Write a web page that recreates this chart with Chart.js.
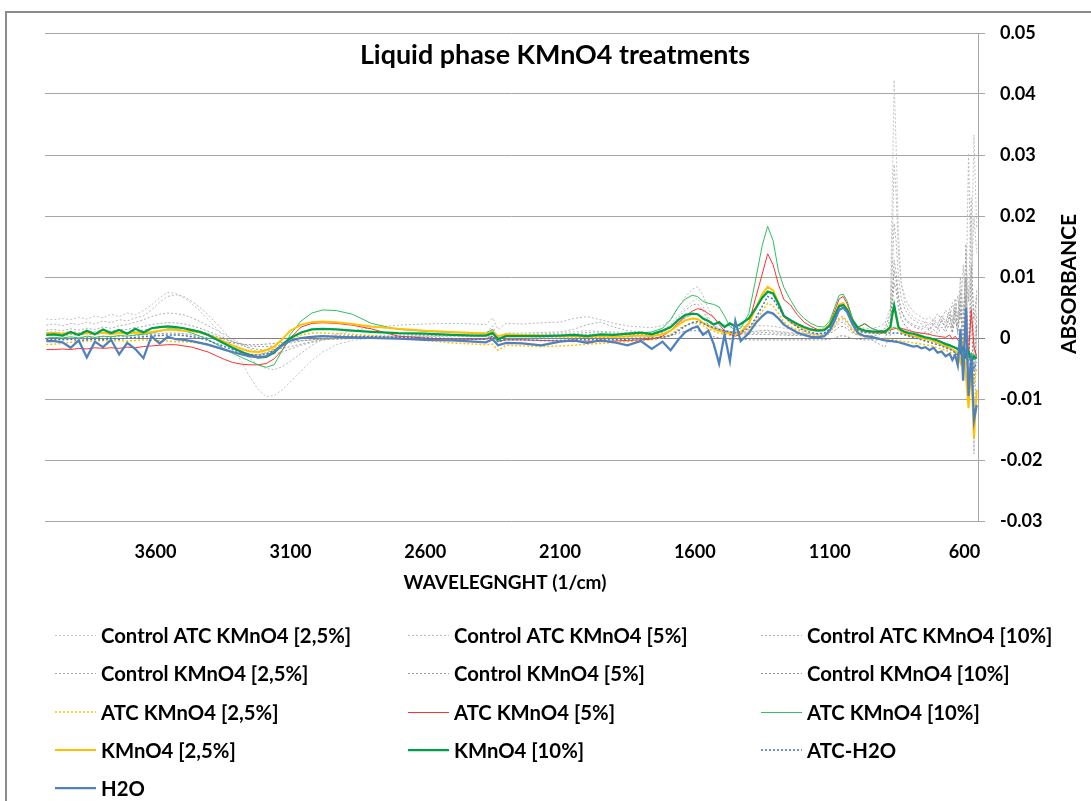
<!DOCTYPE html>
<html>
<head>
<meta charset="utf-8">
<title>Liquid phase KMnO4 treatments</title>
<script src="https://cdn.jsdelivr.net/npm/chart.js@4.4.1/dist/chart.umd.min.js"></script>
<style>
  html, body { margin: 0; padding: 0; background: #fff; }
  canvas { display: block; }
</style>
</head>
<body>
<canvas id="spectra-chart" width="1091" height="801"></canvas>
<script>
// Wavenumber grid (1/cm), shared by every series
var wavenumbers = [
  4005, 3975, 3945, 3915, 3885, 3855, 3825, 3795, 3765, 3735, 3705, 3675, 3645, 3615, 3585, 3555, 3525, 3495, 3465, 3435, 3405, 3375, 3345, 3315,
  3280, 3250, 3220, 3190, 3160, 3130, 3100, 3060, 3020, 2980, 2930, 2870, 2800, 2700, 2600, 2500, 2420, 2375, 2350, 2330, 2300, 2240, 2170,
  2100, 2050, 2000, 1950, 1900, 1850, 1800, 1760, 1720, 1690, 1660, 1635, 1610, 1590, 1570, 1550, 1530, 1510, 1490, 1470, 1450, 1430,
  1400, 1375, 1350, 1330, 1310, 1290, 1270, 1245, 1220, 1195, 1170, 1145, 1120, 1100, 1080, 1065, 1050, 1035, 1015, 995, 970, 945, 920, 895,
  875, 868, 861, 854, 845, 835, 820, 805, 790, 775, 760, 745, 730, 715, 700, 685, 670, 655, 645, 635, 625, 615, 605, 595, 585, 575, 565, 555
];

// Absorbance values, in thousandths (x 0.001)
var controlAtc25 = [
  3.1, 3.0, 3.2, 3.0, 3.4, 3.1, 3.6, 3.3, 3.9, 3.5, 4.1, 3.8, 4.5, 5.4, 6.6, 7.5, 7.3, 6.6, 5.6, 4.4, 3.0, 1.6, 0.2, -1.4,
  -4.0, -6.4, -8.4, -9.6, -9.4, -8.5, -7.2, -5.4, -3.7, -2.3, -1.1, -0.4, 0.0, 0.2, 0.3, 0.4, 0.5, 0.6, 1.5, 0.2, 0.6, 0.6, 0.7,
  0.8, 1.0, 1.2, 1.1, 1.0, 0.9, 0.8, 0.8, 1.2, 2.2, 3.8, 5.0, 6.0, 6.5, 5.2, 3.4, 2.2, 1.6, 1.2, 1.0, 0.9, 0.9,
  1.0, 1.1, 1.2, 1.3, 1.2, 1.1, 1.0, 0.9, 0.8, 0.8, 0.7, 0.7, 0.8, 1.2, 2.0, 2.8, 3.0, 2.4, 1.4, 1.0, 0.9, 0.9, 1.0, 1.5,
  4.0, 24.0, 42.3, 32.0, 17.0, 9.0, 5.5, 4.2, 3.5, 3.0, 2.8, 2.6, 2.4, 3.2, 2.4, 3.6, 2.8, 4.2, 3.0, 5.5, 3.5, 8.0, 2.0, 14.0, 6.0, 12.0, 33.3, 18.0
];
var controlAtc5 = [
  2.1, 2.3, 2.0, 2.4, 2.2, 2.6, 2.3, 2.8, 2.5, 3.0, 2.8, 3.3, 3.6, 4.6, 5.9, 6.8, 7.1, 6.8, 6.0, 5.0, 3.8, 2.4, 1.0, -0.5,
  -2.0, -3.4, -4.4, -5.0, -5.2, -4.7, -3.8, -2.5, -1.2, -0.2, 0.6, 1.2, 1.7, 2.1, 2.3, 2.4, 2.3, 2.2, 3.3, 1.4, 2.4, 2.3, 2.5,
  2.6, 3.2, 3.5, 3.0, 2.4, 2.0, 1.8, 1.7, 2.0, 3.0, 5.0, 6.8, 8.0, 8.4, 7.0, 4.8, 3.2, 2.6, 2.2, 2.0, 1.9, 1.9,
  1.9, 2.0, 2.0, 2.0, 1.9, 1.8, 1.6, 1.5, 1.4, 1.3, 1.3, 1.4, 1.6, 2.4, 4.0, 5.4, 5.8, 4.8, 2.8, 1.8, 1.6, 1.6, 1.8, 2.4,
  5.0, 16.0, 28.4, 24.0, 14.0, 9.0, 6.5, 5.2, 4.4, 3.8, 3.4, 3.0, 3.4, 2.8, 4.0, 3.0, 4.6, 3.2, 5.8, 3.4, 7.0, 3.0, 12.0, 5.0, 30.3, 9.0, 20.0, 14.0
];
var controlAtc10 = [
  1.3, 1.4, 1.2, 1.5, 1.3, 1.6, 1.4, 1.8, 1.6, 2.0, 2.2, 2.6, 3.0, 3.5, 3.9, 4.1, 4.0, 3.8, 3.3, 2.7, 2.0, 1.3, 0.6, -0.2,
  -1.0, -1.8, -2.3, -2.6, -2.6, -2.3, -1.8, -1.2, -0.7, -0.3, 0.0, 0.2, 0.4, 0.5, 0.6, 0.6, 0.6, 0.7, 2.0, -0.2, 0.8, 0.8, 0.9,
  1.0, 1.4, 2.2, 2.6, 1.8, 1.2, 1.0, 0.9, 1.1, 1.6, 2.6, 3.4, 3.8, 3.9, 3.4, 2.6, 1.8, 1.4, 1.2, 1.1, 1.0, 1.0,
  1.0, 1.1, 1.2, 1.2, 1.1, 1.0, 0.9, 0.8, 0.7, 0.7, 0.7, 0.7, 0.8, 1.2, 2.2, 3.0, 3.2, 2.6, 1.5, 1.0, 0.9, 0.9, 1.0, 1.6,
  4.0, 11.0, 18.8, 16.0, 10.0, 6.5, 4.6, 3.6, 3.0, 2.6, 2.3, 2.6, 2.0, 3.0, 2.2, 3.6, 2.4, 4.8, 2.6, 6.5, 3.0, 10.0, 4.0, 10.0, 6.0, 23.0, -5.0, 8.0
];
var control25 = [
  0.9, 1.0, 0.8, 1.1, 0.9, 1.2, 1.0, 1.3, 1.1, 1.4, 1.4, 1.7, 1.9, 2.2, 2.4, 2.5, 2.5, 2.3, 2.0, 1.6, 1.1, 0.6, 0.0, -0.6,
  -1.2, -1.6, -1.9, -2.0, -1.9, -1.7, -1.4, -1.0, -0.6, -0.3, -0.1, 0.1, 0.2, 0.3, 0.4, 0.4, 0.4, 0.5, 1.2, 0.0, 0.5, 0.5, 0.6,
  0.6, 0.7, 0.9, 1.0, 0.8, 0.7, 0.6, 0.6, 0.9, 1.8, 3.4, 4.6, 5.4, 5.6, 4.4, 3.0, 2.0, 1.4, 1.1, 0.9, 0.8, 0.8,
  0.8, 0.8, 0.9, 0.9, 0.8, 0.8, 0.7, 0.6, 0.6, 0.5, 0.5, 0.5, 0.6, 1.0, 1.8, 2.4, 2.6, 2.0, 1.0, 0.5, 0.2, -0.3, -0.9, -1.5,
  0.5, 7.0, 12.8, 11.0, 7.0, 4.5, 3.2, 2.6, 2.2, 1.9, 1.7, 2.2, 1.4, 2.6, 1.6, 3.0, 1.8, 3.8, 1.2, 5.0, 0.5, 7.5, -3.0, 15.4, -8.0, 9.0, -19.0, 4.0
];
var control5 = [
  0.4, 0.5, 0.3, 0.6, 0.4, 0.7, 0.5, 0.8, 0.6, 0.9, 0.9, 1.1, 1.3, 1.5, 1.7, 1.8, 1.8, 1.6, 1.4, 1.1, 0.7, 0.3, -0.2, -0.6,
  -1.0, -1.3, -1.4, -1.4, -1.3, -1.1, -0.8, -0.5, -0.3, -0.1, 0.0, 0.1, 0.2, 0.2, 0.3, 0.3, 0.3, 0.3, 0.9, -0.2, 0.3, 0.3, 0.4,
  0.4, 0.5, 0.6, 0.6, 0.5, 0.5, 0.5, 0.5, 0.7, 1.3, 2.4, 3.3, 3.9, 4.0, 3.3, 2.2, 1.5, 1.1, 0.9, 0.8, 0.7, 0.7,
  0.6, 0.6, 0.6, 0.6, 0.6, 0.5, 0.5, 0.4, 0.4, 0.4, 0.3, 0.3, 0.4, 0.7, 1.3, 1.8, 1.9, 1.5, 0.8, 0.5, 0.4, 0.4, 0.5, 1.0,
  3.0, 7.0, 11.1, 9.5, 6.5, 4.5, 3.0, 2.3, 1.9, 1.6, 1.4, 1.8, 1.2, 2.2, 1.4, 2.8, 1.6, 3.4, 1.8, 4.5, 2.0, 6.0, 1.0, 10.0, -2.0, 12.0, 3.0, 7.0
];
var control10 = [
  -0.2, -0.1, -0.2, 0.0, -0.1, 0.1, 0.0, 0.2, 0.1, 0.3, 0.3, 0.4, 0.5, 0.6, 0.7, 0.8, 0.8, 0.7, 0.5, 0.3, 0.0, -0.3, -0.6, -0.8,
  -1.0, -1.1, -1.1, -1.0, -0.9, -0.7, -0.5, -0.4, -0.3, -0.2, -0.2, -0.1, -0.1, -0.1, -0.1, -0.1, -0.1, -0.1, 0.6, -0.6, -0.1, -0.1, 0.0,
  0.0, 0.0, 0.1, 0.1, 0.0, 0.0, 0.0, 0.0, 0.1, 0.4, 0.8, 1.1, 1.2, 1.2, 0.9, 0.5, 0.2, 0.0, -0.1, -0.2, -0.2, -0.2,
  -0.3, -0.3, -0.3, -0.3, -0.3, -0.3, -0.3, -0.3, -0.3, -0.3, -0.3, -0.3, -0.3, -0.2, 0.0, 0.3, 0.4, 0.2, -0.1, -0.2, -0.3, -0.3, -0.3, 0.0,
  2.0, 5.5, 9.0, 8.0, 5.0, 3.2, 2.0, 1.4, 1.0, 0.8, 0.7, 1.0, 0.6, 1.4, 0.8, 1.8, 1.0, 2.4, 0.8, 3.2, 1.0, 4.5, -1.0, 7.0, -4.0, 5.0, -8.0, 2.0
];
var atc25 = [
  -1.1, -1.0, -0.9, -0.7, -0.6, -0.5, -0.5, -0.4, -0.5, -0.4, -0.5, -0.4, -0.3, -0.4, -0.4, -0.5, -0.6, -0.6, -0.7, -0.9, -1.2, -1.6, -2.0, -2.3,
  -2.6, -2.7, -2.7, -2.4, -1.8, -1.0, -0.2, 0.5, 0.8, 0.8, 0.7, 0.6, 0.4, 0.0, -0.4, -0.8, -1.0, -1.1, -1.0, -2.0, -1.2, -1.3, -1.4,
  -1.3, -1.2, -1.0, -0.9, -0.7, -0.6, -0.4, -0.3, 0.0, 0.6, 1.5, 2.1, 2.4, 2.4, 2.0, 1.5, 1.1, 0.8, 0.6, 0.4, 0.4, 0.6,
  1.4, 2.8, 4.4, 5.7, 5.3, 4.0, 2.6, 1.8, 1.3, 0.9, 0.6, 0.5, 0.5, 1.0, 2.2, 3.3, 3.5, 2.8, 1.2, 0.5, 0.3, 0.1, -0.1, -0.2,
  -0.3, -0.3, -0.3, -0.4, -0.4, -0.5, -0.6, -0.7, -0.8, -0.9, -1.0, -1.1, -1.2, -1.4, -1.6, -1.8, -2.0, -2.3, -2.6, -2.9, -3.2, -2.4, -4.5, -2.8, -6.5, -3.6, -7.5, -5.0
];
var atc5 = [
  -1.9, -1.9, -1.8, -1.9, -1.7, -1.8, -1.6, -1.7, -1.6, -1.7, -1.5, -1.6, -1.4, -1.3, -1.2, -1.1, -1.1, -1.3, -1.5, -1.9, -2.3, -2.9, -3.5, -4.0,
  -4.3, -4.4, -4.4, -4.2, -3.4, -2.0, 0.0, 1.8, 2.4, 2.5, 2.4, 2.1, 1.5, 0.3, 0.0, -0.2, -0.2, -0.2, 0.2, -0.5, -0.3, -0.3, -0.4,
  -0.5, -0.6, -0.5, -0.6, -0.5, -0.4, -0.3, -0.2, 0.3, 1.2, 2.5, 3.6, 4.4, 4.8, 4.6, 4.0, 3.4, 2.2, 1.2, 0.6, 0.3, 0.6,
  2.4, 6.5, 10.5, 13.8, 12.0, 8.8, 6.3, 5.4, 3.8, 2.6, 1.9, 1.4, 1.4, 2.4, 4.6, 6.4, 6.8, 5.6, 3.0, 1.8, 2.3, 1.6, 1.2, 1.2,
  1.3, 1.4, 1.5, 1.6, 1.5, 1.6, 1.4, 1.2, 1.0, 0.9, 0.8, 0.7, 0.6, 0.4, 0.3, 0.2, 0.1, 0.5, -0.2, 0.3, -0.3, -0.8, -2.0, 0.5, -2.5, 4.6, -1.5, -3.0
];
var atc10 = [
  0.0, 0.1, 0.0, 0.2, 0.0, 0.3, 0.1, 0.3, 0.2, 0.4, 0.3, 0.5, 0.6, 0.8, 1.1, 1.5, 1.5, 1.2, 0.8, 0.3, -0.3, -1.0, -1.8, -2.5,
  -3.2, -3.8, -4.4, -4.8, -4.4, -2.0, 0.6, 2.8, 4.1, 4.6, 4.5, 3.9, 2.4, 1.4, 1.1, 0.9, 0.8, 0.8, 1.4, -0.6, 0.6, 0.5, 0.4,
  0.4, 0.5, 0.4, 0.5, 0.5, 0.6, 0.8, 1.0, 1.6, 3.0, 5.2, 6.4, 7.0, 6.8, 6.0, 5.7, 5.5, 5.1, 3.6, 1.9, 1.3, 1.6,
  4.0, 9.5, 15.2, 18.3, 16.0, 11.0, 8.3, 6.2, 4.4, 3.2, 2.4, 1.9, 1.8, 2.8, 5.2, 7.0, 7.2, 6.0, 3.2, 1.8, 2.4, 1.6, 1.2, 1.1,
  1.3, 1.6, 1.8, 1.6, 1.3, 1.2, 1.0, 0.8, 0.7, 0.5, 0.3, 0.1, 0.0, -0.2, -0.4, -0.6, -0.9, -1.1, -1.3, -1.5, -1.7, -1.2, -2.6, -1.8, -3.2, -2.4, -3.6, -3.0
];
var kmno25 = [
  0.8, 0.8, 0.7, 0.8, 0.6, 0.8, 0.7, 0.9, 0.6, 0.8, 0.7, 0.9, 0.8, 1.0, 1.2, 1.4, 1.3, 1.2, 1.1, 0.9, 0.5, 0.0, -0.6, -1.2,
  -1.8, -2.2, -2.3, -2.0, -1.4, -0.2, 1.2, 2.2, 2.6, 2.7, 2.6, 2.3, 1.9, 1.5, 1.2, 1.0, 0.8, 0.7, 1.0, 0.3, 0.6, 0.5, 0.4,
  0.3, 0.3, 0.2, 0.3, 0.2, 0.3, 0.4, 0.3, 0.6, 1.2, 2.2, 2.9, 3.2, 3.1, 2.5, 2.0, 1.5, 1.2, 0.9, 0.8, 0.7, 1.0,
  2.4, 4.8, 7.2, 8.4, 7.8, 5.8, 3.6, 2.6, 2.0, 1.6, 1.3, 1.2, 1.4, 2.2, 4.0, 5.5, 5.7, 4.8, 2.8, 1.4, 1.1, 0.9, 0.8, 0.8,
  1.6, 3.6, 5.2, 3.6, 1.6, 1.0, 0.7, 0.5, 0.3, 0.2, 0.0, -0.2, -0.3, -0.5, -0.8, -1.1, -1.4, -1.6, -1.9, -2.1, -2.5, -4.0, -1.0, -6.0, -11.5, -4.0, -16.5, -8.5
];
var kmno10 = [
  0.5, 0.6, 0.4, 1.0, 0.5, 1.2, 0.6, 1.4, 0.8, 1.3, 0.7, 1.5, 0.9, 1.6, 1.8, 1.9, 1.8, 1.6, 1.3, 1.0, 0.5, -0.2, -0.9, -1.6,
  -2.3, -2.8, -3.2, -3.1, -2.4, -1.1, 0.0, 0.9, 1.4, 1.5, 1.4, 1.2, 1.0, 0.8, 0.7, 0.5, 0.4, 0.4, 0.8, -0.2, 0.3, 0.3, 0.3,
  0.4, 0.5, 0.3, 0.6, 0.5, 0.7, 0.9, 0.6, 1.2, 1.8, 3.0, 3.8, 4.0, 3.9, 3.2, 2.8, 2.2, 2.6, 1.8, 2.4, 1.9, 2.3,
  3.2, 4.8, 6.6, 7.6, 7.3, 5.6, 3.6, 2.9, 2.3, 1.8, 1.4, 1.2, 1.3, 2.0, 3.8, 5.2, 5.4, 4.6, 2.8, 1.6, 1.2, 1.1, 1.0, 1.0,
  1.8, 3.8, 5.4, 3.8, 1.8, 1.3, 1.0, 0.8, 0.7, 0.5, 0.3, 0.1, 0.0, -0.2, -0.4, -0.7, -1.0, -1.2, -1.4, -1.6, -1.8, -2.4, -1.6, -3.0, -2.2, -3.8, -3.0, -3.4
];
var atcH2o = [
  -0.3, -0.2, -0.3, -0.2, -0.4, -0.3, -0.2, -0.3, -0.1, -0.2, 0.0, 0.1, 0.2, 0.3, 0.4, 0.5, 0.5, 0.4, 0.2, 0.0, -0.4, -0.9, -1.4, -1.9,
  -2.4, -2.7, -2.8, -2.6, -2.0, -1.2, -0.5, 0.0, 0.2, 0.3, 0.3, 0.3, 0.2, 0.1, 0.0, -0.1, -0.2, -0.2, 0.3, -0.6, -0.3, -0.3, -0.4,
  -0.4, -0.3, -0.3, -0.3, -0.3, -0.2, -0.1, 0.0, 0.1, 0.4, 1.2, 2.0, 2.5, 2.7, 2.4, 2.0, 1.7, 1.4, 1.2, 1.0, 0.9, 1.0,
  1.6, 3.2, 5.2, 6.8, 6.4, 5.0, 3.6, 2.6, 1.8, 1.2, 0.9, 0.7, 0.8, 1.5, 3.4, 4.8, 5.0, 4.2, 2.4, 1.2, 0.9, 0.8, 0.8, 0.8,
  0.8, 0.8, 0.8, 0.8, 0.8, 0.7, 0.5, 0.3, 0.1, -0.1, -0.3, -0.5, -0.7, -0.9, -1.1, -1.3, -1.6, -1.8, -2.1, -2.4, -2.8, -1.5, -4.5, -2.0, -6.5, -3.0, -5.0, -4.0
];
var h2o = [
  -0.5, -0.5, -0.7, -1.6, -0.4, -3.2, -0.6, -1.5, -0.3, -2.7, -0.8, -1.8, -3.3, 0.3, -0.9, 0.2, -0.2, -0.3, -0.5, -0.8, -1.1, -1.5, -1.9, -2.3,
  -2.7, -3.0, -3.1, -3.0, -2.2, -1.2, -0.4, 0.0, 0.2, 0.3, 0.2, 0.1, 0.0, -0.1, -0.3, -0.4, -0.6, -0.7, -0.2, -1.2, -0.8, -0.9, -1.2,
  -0.6, -0.4, -0.8, -0.4, -0.7, -1.2, -0.5, -1.8, -0.6, -2.0, -0.2, 1.0, 1.6, 1.9, 0.5, 1.2, -1.0, -4.2, 0.6, -3.8, 2.8, -0.5,
  0.8, 2.4, 3.6, 4.3, 4.0, 3.2, 2.2, 1.5, 0.9, 0.5, 0.2, 0.1, 0.3, 1.2, 3.0, 4.6, 5.0, 4.2, 2.2, 0.8, 0.3, 0.2, -0.1, -0.4,
  -0.5, -0.5, -0.6, -0.6, -0.7, -0.8, -1.0, -1.2, -1.4, -1.3, -1.7, -1.5, -2.0, -1.6, -2.4, -2.2, -3.0, -2.6, -3.6, -2.8, -4.5, 1.5, -7.0, 5.0, -9.5, -3.0, -13.5, -11.0
];

var seriesNames = [
  "Control ATC KMnO4 [2,5%]", "Control ATC KMnO4 [5%]", "Control ATC KMnO4 [10%]",
  "Control KMnO4 [2,5%]", "Control KMnO4 [5%]", "Control KMnO4 [10%]",
  "ATC KMnO4 [2,5%]", "ATC KMnO4 [5%]", "ATC KMnO4 [10%]",
  "KMnO4 [2,5%]", "KMnO4 [10%]", "ATC-H2O",
  "H2O"
];
var seriesValues = [
  controlAtc25, controlAtc5, controlAtc10,
  control25, control5, control10,
  atc25, atc5, atc10,
  kmno25, kmno10, atcH2o,
  h2o
];
var xTicks = [3600, 3100, 2600, 2100, 1600, 1100, 600];

// Line styles, same order as the series
var seriesStyles = [
  { color: "#c4c4c4", width: 1, dash: [2, 2] },
  { color: "#bababa", width: 1, dash: [2, 2] },
  { color: "#b0b0b0", width: 1, dash: [2, 2] },
  { color: "#a6a6a6", width: 1, dash: [2, 2] },
  { color: "#9c9c9c", width: 1, dash: [2, 2] },
  { color: "#909090", width: 1, dash: [2, 2] },
  { color: "#ffc000", width: 1.5, dash: [2, 2] },
  { color: "#ff3030", width: 1, dash: [] },
  { color: "#30c060", width: 1, dash: [] },
  { color: "#ffc000", width: 2, dash: [] },
  { color: "#00a04a", width: 2.25, dash: [] },
  { color: "#4472c4", width: 1.5, dash: [2, 2] },
  { color: "#4f81bd", width: 2.25, dash: [] }
];

// Font sizes fitted to the widths of the texts in the original
var measureCtx = document.createElement("canvas").getContext("2d");
function fitSize(text, width) {
  measureCtx.font = "bold 100px Lato";
  return Math.round(1000 * width / measureCtx.measureText(text).width) / 10;
}
var FONT = "Lato";
var titleSize = fitSize("Liquid phase KMnO4 treatments", 390);
var tickSize = fitSize("3600", 42);
var legendSize = fitSize("Control ATC KMnO4 [2,5%]", 250);
var xTitleSize = fitSize("WAVELEGNGHT (1/cm)", 203);
var yTitleSize = fitSize("ABSORBANCE", 140);

var datasets = seriesNames.map(function (name, i) {
  var st = seriesStyles[i];
  return {
    label: name,
    data: seriesValues[i].map(function (v, j) { return { x: wavenumbers[j], y: v / 1000 }; }),
    borderColor: st.color,
    borderWidth: st.width,
    borderDash: st.dash,
    pointRadius: 0,
    tension: 0,
    fill: false,
    order: seriesNames.length - 1 - i
  };
});

// Frame, title, axis titles and the three-column legend
var decorations = {
  id: "decorations",
  beforeDraw: function (chart) {
    var c = chart.ctx;
    c.save();
    c.fillStyle = "#ffffff";
    c.fillRect(0, 0, chart.width, chart.height);
    c.strokeStyle = "#8c8c8c";
    c.lineWidth = 2;
    c.beginPath();
    c.moveTo(chart.width, 12);
    c.lineTo(6, 12);
    c.lineTo(6, chart.height);
    c.stroke();
    c.restore();
  },
  afterDraw: function (chart) {
    var c = chart.ctx;
    c.save();
    c.fillStyle = "#000000";
    c.textBaseline = "middle";

    c.font = "bold " + titleSize + "px " + FONT;
    c.textAlign = "center";
    c.fillText("Liquid phase KMnO4 treatments", 555, 55);

    c.font = "bold " + xTitleSize + "px " + FONT;
    c.fillText("WAVELEGNGHT (1/cm)", 505, 583);

    c.save();
    c.translate(1069, 284);
    c.rotate(-Math.PI / 2);
    c.font = "bold " + yTitleSize + "px " + FONT;
    c.fillText("ABSORBANCE", 0, 0);
    c.restore();

    var lineX = [55, 408, 761];
    var textX = [101, 454, 807];
    c.font = "bold " + legendSize + "px " + FONT;
    c.textAlign = "left";
    chart.data.datasets.forEach(function (ds, i) {
      var col = i % 3;
      var y = Math.round(635 + Math.floor(i / 3) * 38.3);
      var ly = ds.borderWidth % 2 === 1 ? y + 0.5 : y;
      c.save();
      c.strokeStyle = ds.borderColor;
      c.lineWidth = ds.borderWidth;
      c.setLineDash(ds.borderDash);
      c.beginPath();
      c.moveTo(lineX[col], ly);
      c.lineTo(lineX[col] + 41, ly);
      c.stroke();
      c.restore();
      c.fillText(ds.label, textX[col], y + 1);
    });
    c.restore();
  }
};

var ctx = document.getElementById("spectra-chart");

var config = {
  type: "line",
  data: { datasets: datasets },
  options: {
    responsive: false,
    animation: false,
    layout: { padding: { left: 45, top: 33, right: 0, bottom: 200 } },
    plugins: {
      legend: { display: false },
      title: { display: false },
      tooltip: { enabled: false }
    },
    scales: {
      x: {
        type: "linear",
        position: "bottom",
        reverse: true,
        min: 550,
        max: 4010,
        grid: { display: false, drawTicks: false },
        border: { display: false },
        ticks: {
          autoSkip: false,
          maxRotation: 0,
          padding: 20,
          color: "#000000",
          font: { family: FONT, weight: "bold", size: tickSize },
          callback: function (v) { return String(v); }
        },
        afterBuildTicks: function (scale) {
          scale.ticks = xTicks.map(function (v) { return { value: v }; });
        },
        afterFit: function (scale) { scale.height = 80; }
      },
      y: {
        position: "right",
        min: -0.03,
        max: 0.05,
        grid: {
          color: function (c) {
            return Math.abs(c.tick.value) < 1e-9 ? "#808080" : "#a6a6a6";
          },
          lineWidth: 1,
          tickLength: 7
        },
        border: { color: "#a6a6a6" },
        ticks: {
          stepSize: 0.01,
          padding: 15,
          color: "#000000",
          font: { family: FONT, weight: "bold", size: tickSize },
          callback: function (v) {
            var r = Math.round(v * 100) / 100;
            return r === 0 ? "0" : r.toFixed(2);
          }
        },
        afterFit: function (scale) { scale.width = 113; }
      }
    }
  },
  plugins: [decorations]
};

var spectraChart = new Chart(ctx, config);
</script>
</body>
</html>
